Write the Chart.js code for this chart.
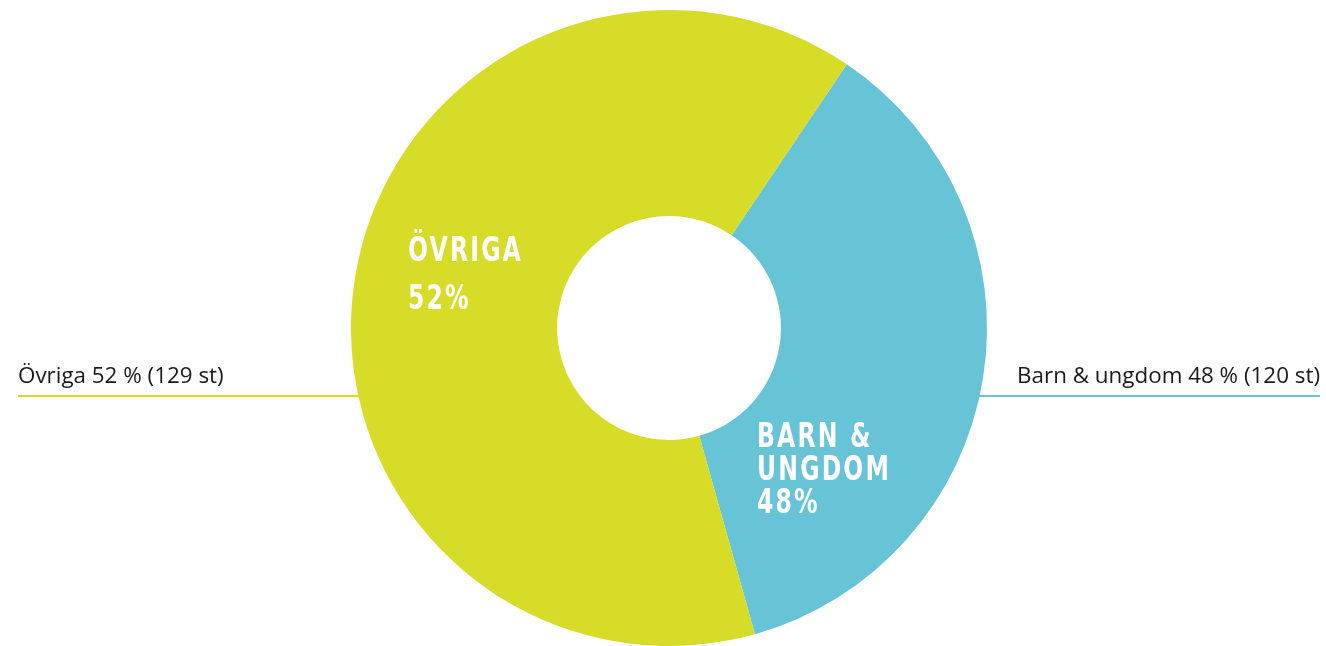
<!DOCTYPE html>
<html>
<head>
<meta charset="utf-8">
<script src="https://cdn.jsdelivr.net/npm/chart.js@4/dist/chart.umd.min.js"></script>
<style>
  html, body { margin: 0; padding: 0; background: #fff; }
  #wrap { width: 1326px; height: 646px; position: relative; }
</style>
</head>
<body>
<div id="wrap"><canvas id="donut"></canvas></div>
<script>
// categories, in drawing order (clockwise from the rotation start)
var categories = ['Barn & ungdom', 'Övriga'];
// slice shares as drawn in the picture
var sliceShares = [36.2, 63.8];
// numbers printed in the labels
var percents = [48, 52];
var counts = [120, 129];
var insideLabels = [['BARN &', 'UNGDOM', '48%'], ['ÖVRIGA', '52%']];

var colors = ['#67c4d6', '#d6dc28'];

var labelPlugin = {
    id: 'sideLabels',
    beforeDatasetsDraw: function (chart) {
        var ctx = chart.ctx;
        var arc = chart.getDatasetMeta(0).data[0];
        var cx = arc.x, cy = arc.y;
        ctx.save();
        ctx.lineWidth = 2;
        // left line (Övriga), ends under the ring
        ctx.strokeStyle = colors[1];
        ctx.beginPath();
        ctx.moveTo(18, cy + 68);
        ctx.lineTo(cx - 290, cy + 68);
        ctx.stroke();
        // right line (Barn & ungdom)
        ctx.strokeStyle = colors[0];
        ctx.beginPath();
        ctx.moveTo(cx + 290, cy + 68);
        ctx.lineTo(1320, cy + 68);
        ctx.stroke();

        ctx.fillStyle = '#1a1a1a';
        ctx.font = '22.4px "Open Sans"';
        ctx.textBaseline = 'alphabetic';
        ctx.textAlign = 'left';
        ctx.fillText(categories[1] + ' ' + percents[1] + ' % (' + counts[1] + ' st)', 18, cy + 55);
        ctx.textAlign = 'right';
        ctx.fillText(categories[0] + ' ' + percents[0] + ' % (' + counts[0] + ' st)', 1320, cy + 55);
        ctx.restore();
    },
    afterDatasetsDraw: function (chart) {
        var ctx = chart.ctx;
        var arc = chart.getDatasetMeta(0).data[0];
        var cx = arc.x, cy = arc.y;
        ctx.save();
        ctx.fillStyle = '#ffffff';
        ctx.font = 'bold 33px "DejaVu Sans"';
        ctx.textAlign = 'left';
        ctx.textBaseline = 'alphabetic';
        if ('letterSpacing' in ctx) ctx.letterSpacing = '3px';
        // squeeze to a condensed look
        var sx = 115 / ctx.measureText('ÖVRIGA').width;
        function draw(lines, x0, y0, step) {
            lines.forEach(function (t, i) {
                ctx.save();
                ctx.translate(x0, y0 + i * step);
                ctx.scale(sx, 1);
                ctx.fillText(t, 0, 0);
                ctx.restore();
            });
        }
        draw(insideLabels[1], cx - 261, cy - 67, 48);
        draw(insideLabels[0], cx + 88, cy + 119, 33);
        ctx.restore();
    }
};

new Chart(document.getElementById('donut'), {
    type: 'doughnut',
    data: {
        labels: categories,
        datasets: [{
            data: sliceShares,
            backgroundColor: colors,
            borderWidth: 0,
            hoverOffset: 0
        }]
    },
    options: {
        responsive: true,
        maintainAspectRatio: false,
        animation: false,
        rotation: 34.0,
        cutout: '35.2%',
        layout: { padding: { left: 12, right: 0, top: 10, bottom: 0 } },
        plugins: {
            legend: { display: false },
            tooltip: { enabled: false }
        }
    },
    plugins: [labelPlugin]
});
</script>
</body>
</html>
